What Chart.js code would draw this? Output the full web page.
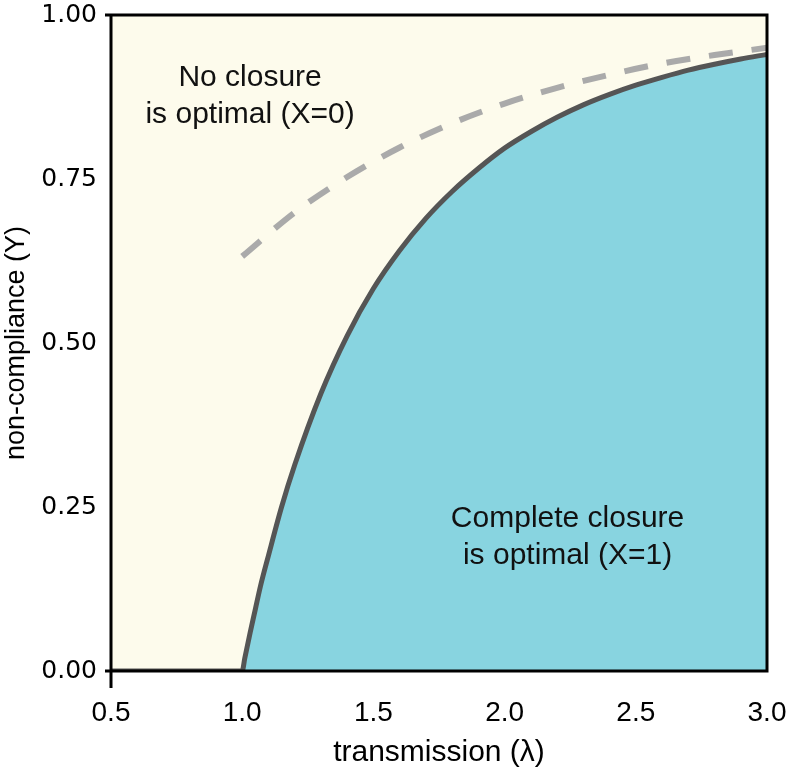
<!DOCTYPE html>
<html>
<head>
<meta charset="utf-8">
<script src="https://cdn.jsdelivr.net/npm/chart.js@4.4.1/dist/chart.umd.min.js"></script>
<style>
  html, body { margin: 0; padding: 0; background: #fff; }
  #wrap { width: 787px; height: 773px; position: relative; }
</style>
</head>
<body>
<div id="wrap"><canvas id="chart"></canvas></div>
<script>
// ─── Data ────────────────────────────────────────────────────────────────────
const xTicks = [0.5, 1.0, 1.5, 2.0, 2.5, 3.0];
const yTicks = [0, 0.25, 0.5, 0.75, 1.0];

// boundary between the two regions (solid line)
const lambdaSolid = [0.5, 1.0, 1.01, 1.03, 1.05, 1.07, 1.1, 1.15, 1.2, 1.3, 1.4, 1.5, 1.6, 1.7, 1.8, 1.9, 2.0,
                     2.1, 2.2, 2.3, 2.4, 2.5, 2.6, 2.7, 2.8, 2.9, 3.0];
const ySolid      = [0, 0, 0.02, 0.058, 0.094, 0.13, 0.176, 0.25, 0.314, 0.423, 0.511, 0.583, 0.641, 0.69, 0.731, 0.766, 0.797,
                     0.822, 0.844, 0.863, 0.879, 0.893, 0.905, 0.916, 0.925, 0.933, 0.94];

// dashed reference curve
const lambdaDash = [1.0, 1.2, 1.4, 1.6, 1.8, 2.0, 2.2, 2.4, 2.6, 2.8, 3.0];
const yDash      = [0.632, 0.699, 0.753, 0.798, 0.835, 0.865, 0.889, 0.909, 0.926, 0.939, 0.95];

const regionLabels = [
  { lines: ['No closure', 'is optimal (X=0)'], x: 1.03, y: [0.905, 0.848] },
  { lines: ['Complete closure', 'is optimal (X=1)'], x: 2.24, y: [0.232, 0.175] }
];

const FONT = "'Liberation Sans', Arial, Helvetica, sans-serif";

// ─── Plugins ─────────────────────────────────────────────────────────────────

const backdrop = {
  id: 'backdrop',
  beforeDatasetsDraw(chart) {
    const { ctx, chartArea: a } = chart;
    ctx.save();
    ctx.fillStyle = '#fdfbec';
    ctx.fillRect(a.left, a.top, a.right - a.left, a.bottom - a.top);
    ctx.restore();
  }
};

const frame = {
  id: 'frame',
  afterDraw(chart) {
    const { ctx, chartArea: a } = chart;
    ctx.save();
    ctx.strokeStyle = '#000';
    ctx.lineWidth = 3;
    ctx.beginPath();
    ctx.moveTo(a.left - 6, a.top);
    ctx.lineTo(a.right, a.top);
    ctx.lineTo(a.right, a.bottom);
    ctx.lineTo(a.left, a.bottom);
    ctx.moveTo(a.left, a.top);
    ctx.lineTo(a.left, a.bottom + 17);
    ctx.moveTo(a.left - 6, a.bottom);
    ctx.lineTo(a.left, a.bottom);
    ctx.stroke();
    ctx.restore();
  }
};

const regionText = {
  id: 'regionText',
  afterDatasetsDraw(chart) {
    const { ctx, scales } = chart;
    ctx.save();
    ctx.fillStyle = '#111';
    ctx.font = '30px ' + FONT;
    ctx.textAlign = 'center';
    ctx.textBaseline = 'middle';
    regionLabels.forEach(r => {
      r.lines.forEach((t, i) => {
        ctx.fillText(t, scales.x.getPixelForValue(r.x), scales.y.getPixelForValue(r.y[i]));
      });
    });
    ctx.restore();
  }
};

// ─── Chart ───────────────────────────────────────────────────────────────────

const ctx = document.getElementById('chart').getContext('2d');

new Chart(ctx, {
  type: 'line',
  data: {
    datasets: [
      {
        label: 'dashed',
        data: lambdaDash.map((x, i) => ({ x, y: yDash[i] })),
        borderColor: '#aaaaaa',
        borderWidth: 6,
        borderDash: [24, 19],
        pointRadius: 0,
        fill: false,
        cubicInterpolationMode: 'monotone',
        order: 0
      },
      {
        label: 'boundary',
        data: lambdaSolid.map((x, i) => ({ x, y: ySolid[i] })),
        borderColor: '#555555',
        backgroundColor: '#88d4e0',
        borderWidth: 5,
        pointRadius: 0,
        fill: 'origin',
        cubicInterpolationMode: 'monotone',
        order: 1
      }
    ]
  },
  options: {
    responsive: true,
    maintainAspectRatio: false,
    animation: false,
    devicePixelRatio: 1,
    layout: { padding: { top: 15, right: 20, left: 0, bottom: 0 } },
    plugins: {
      legend: { display: false },
      tooltip: { enabled: false }
    },
    scales: {
      x: {
        type: 'linear',
        min: 0.5,
        max: 3.0,
        afterBuildTicks: s => { s.ticks = xTicks.map(v => ({ value: v })); },
        afterFit: s => { s.height = 102; s.paddingLeft = 0; s.paddingRight = 0; },
        border: { display: false },
        grid: { display: false, drawTicks: false },
        ticks: {
          color: '#000',
          padding: 25,
          maxRotation: 0,
          font: { size: 28, family: FONT },
          callback: v => v.toFixed(1)
        },
        title: {
          display: true,
          text: 'transmission (λ)',
          color: '#000',
          font: { size: 30, family: FONT },
          padding: { top: 0, bottom: 2 }
        }
      },
      y: {
        min: 0,
        max: 1,
        afterBuildTicks: s => { s.ticks = yTicks.map(v => ({ value: v })); },
        afterFit: s => { s.width = 111; s.paddingTop = 0; s.paddingBottom = 0; },
        border: { display: false },
        grid: { display: false, drawTicks: false },
        ticks: {
          color: '#000',
          padding: 14,
          font: { size: 25, family: "'DejaVu Sans', sans-serif" },
          callback: v => v.toFixed(2)
        },
        title: {
          display: true,
          text: 'non-compliance (Y)',
          color: '#000',
          font: { size: 27, family: FONT },
          padding: { top: 0, bottom: 0 }
        }
      }
    }
  },
  plugins: [backdrop, regionText, frame]
});
</script>
</body>
</html>
